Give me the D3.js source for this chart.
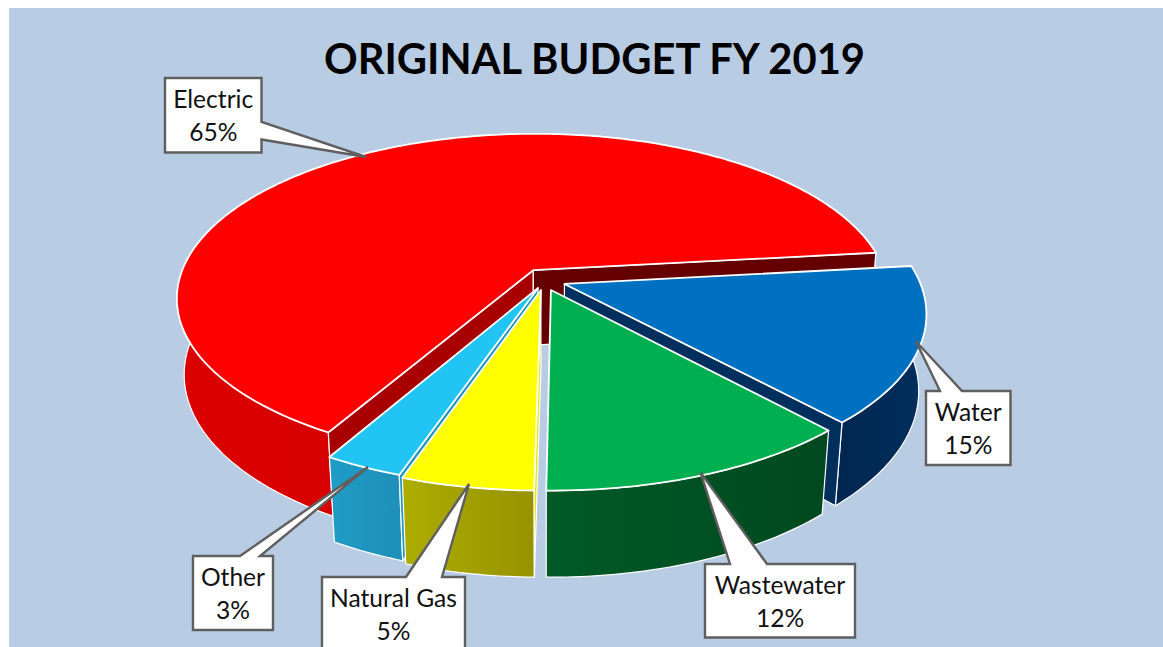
<!DOCTYPE html>
<html>
<head>
<meta charset="utf-8">
<script src="https://cdn.jsdelivr.net/npm/d3@7/dist/d3.min.js"></script>
<style>
  html, body { margin: 0; padding: 0; background: #fff; overflow: hidden; }
  svg { display: block; }
  text { font-family: Lato, "Open Sans", sans-serif; }
</style>
</head>
<body>
<svg id="chart" width="1163" height="647"></svg>
<script>
// Budget shares, in pie order (clockwise from the Electric cut line)
const categories = ["Electric", "Water", "Wastewater", "Natural Gas", "Other"];
const shares = [65, 15, 12, 5, 3];
const chartTitle = "ORIGINAL BUDGET FY 2019";

// Slice appearance: top face, two cut faces, and wall gradient ends
const topColors = ["#ff0000", "#0070c0", "#00b050", "#ffff00", "#22c4f4"];
const startFaceColors = ["#a80000", "#002f5e", "#00481f", "#e6e600", "#1e96c0"];
const endFaceColors = ["#650000", "#002f5e", "#00481f", "#c8c800", "#1e96c0"];
const wallLeft = ["#dc0000", "#00264f", "#005a27", "#adad00", "#1f9cc6"];
const wallRight = ["#c00000", "#002f5e", "#00481f", "#979200", "#1e8fb8"];

// How far each slice is pulled out of the pie, in pie-radius units (x, y)
const offsetsX = [-0.032, 0.056, 0.018, -0.010, -0.018];
const offsetsY = [-0.067, 0.018, 0.055, 0.055, 0.043];

// Perspective camera
const cam = { cx: 544.5, cy: 281, f: 355, g: 163, k: 0.17, h: 77, m: 0.02 };
const firstAngle = 209.6 * Math.PI / 180;

// Callouts: box corners, wedge base on a box side, wedge tip
const callouts = [
  { box: [165, 78, 261.5, 152.5], side: "right", base: [122, 139.5], tip: [366, 157] },
  { box: [926, 391, 1010.5, 465], side: "top", base: [940, 962], tip: [916, 341.5] },
  { box: [705, 564, 855, 637.5], side: "top", base: [730, 767], tip: [700.5, 472.5] },
  { box: [322, 577, 465, 660], side: "top", base: [406, 442], tip: [469, 484] },
  { box: [193, 556, 273, 630], side: "top", base: [240, 260], tip: [368, 467] }
];

const svg = d3.select("#chart");
const width = 1163, height = 647;

svg.append("rect").attr("x", 9).attr("y", 8)
  .attr("width", width - 9).attr("height", height - 8).attr("fill", "#b8cce4");

svg.append("text").attr("x", 594.5).attr("y", 74)
  .attr("text-anchor", "middle").attr("font-size", 41.7).attr("font-weight", 700)
  .attr("fill", "#000").text(chartTitle);

// World point (unit-radius pie, z = 0 top, z = 1 bottom) to the screen
function project(x, y, z) {
  const d = 1 - cam.k * y + cam.m * z;
  return [cam.cx + cam.f * x / d, cam.cy + (cam.g * y + cam.h * z) / d];
}

const pie = d3.pie().sort(null).value(d => d)
  .startAngle(firstAngle).endAngle(firstAngle + 2 * Math.PI);
const arcs = pie(shares);
const line = d3.line();

const rimPoint = (i, a, z) =>
  project(offsetsX[i] + Math.sin(a), offsetsY[i] - Math.cos(a), z);
const apex = (i, z) => project(offsetsX[i], offsetsY[i], z);

function rim(i, a0, a1, z) {
  const n = Math.max(8, Math.ceil(Math.abs(a1 - a0) * 60));
  return d3.range(n + 1).map(j => rimPoint(i, a0 + (a1 - a0) * j / n, z));
}

const defs = svg.append("defs");
categories.forEach((c, i) => {
  const g = defs.append("linearGradient").attr("id", "wall" + i)
    .attr("gradientUnits", "objectBoundingBox")
    .attr("x1", 0).attr("x2", 1).attr("y1", 0).attr("y2", 0);
  g.append("stop").attr("offset", "0%").attr("stop-color", wallLeft[i]);
  g.append("stop").attr("offset", "100%").attr("stop-color", wallRight[i]);
});

// Painter's order, far slices first
const drawOrder = [0, 1, 4, 2, 3];
const pieGroup = svg.append("g").attr("stroke", "#fff").attr("stroke-linejoin", "round");

drawOrder.forEach(i => {
  const { startAngle: a0, endAngle: a1 } = arcs[i];
  const g = pieGroup.append("g").attr("class", "slice");

  // Outer wall sits furthest back, then the cut faces, then the top
  g.append("path")
    .attr("d", line(rim(i, a0, a1, 0).concat(rim(i, a1, a0, 1))) + "Z")
    .attr("fill", `url(#wall${i})`).attr("stroke-width", 1.2);

  // A cut face is drawn only when it turns toward the camera
  const face = (a, fill, facing) => {
    const quad = [apex(i, 0), rimPoint(i, a, 0), rimPoint(i, a, 1), apex(i, 1)];
    if (d3.polygonArea(quad) * facing <= 0) return;
    g.append("path").attr("d", line(quad) + "Z")
      .attr("fill", fill).attr("stroke-width", 1.2);
  };
  face(a0, startFaceColors[i], 1);
  face(a1, endFaceColors[i], -1);

  g.append("path")
    .attr("d", line([apex(i, 0)].concat(rim(i, a0, a1, 0))) + "Z")
    .attr("fill", topColors[i]).attr("stroke-width", 1.8);
});

// Wedge callouts with the category name and share
const calloutGroup = svg.append("g");
callouts.forEach((c, i) => {
  const [x0, y0, x1, y1] = c.box;
  const pts = c.side === "right"
    ? [[x0, y0], [x1, y0], [x1, c.base[0]], c.tip, [x1, c.base[1]], [x1, y1], [x0, y1]]
    : [[x0, y0], [c.base[0], y0], c.tip, [c.base[1], y0], [x1, y0], [x1, y1], [x0, y1]];
  calloutGroup.append("path").attr("d", line(pts) + "Z")
    .attr("fill", "#fff").attr("stroke", "#5f5f5f").attr("stroke-width", 2.4)
    .attr("stroke-linejoin", "miter");
  const mx = (x0 + x1) / 2;
  const lineY = [y0 + 30, y0 + 63];
  [categories[i], shares[i] + "%"].forEach((t, j) => {
    calloutGroup.append("text").attr("x", mx).attr("y", lineY[j])
      .attr("text-anchor", "middle").attr("font-size", 24.6).attr("fill", "#111").text(t);
  });
});
</script>
</body>
</html>
